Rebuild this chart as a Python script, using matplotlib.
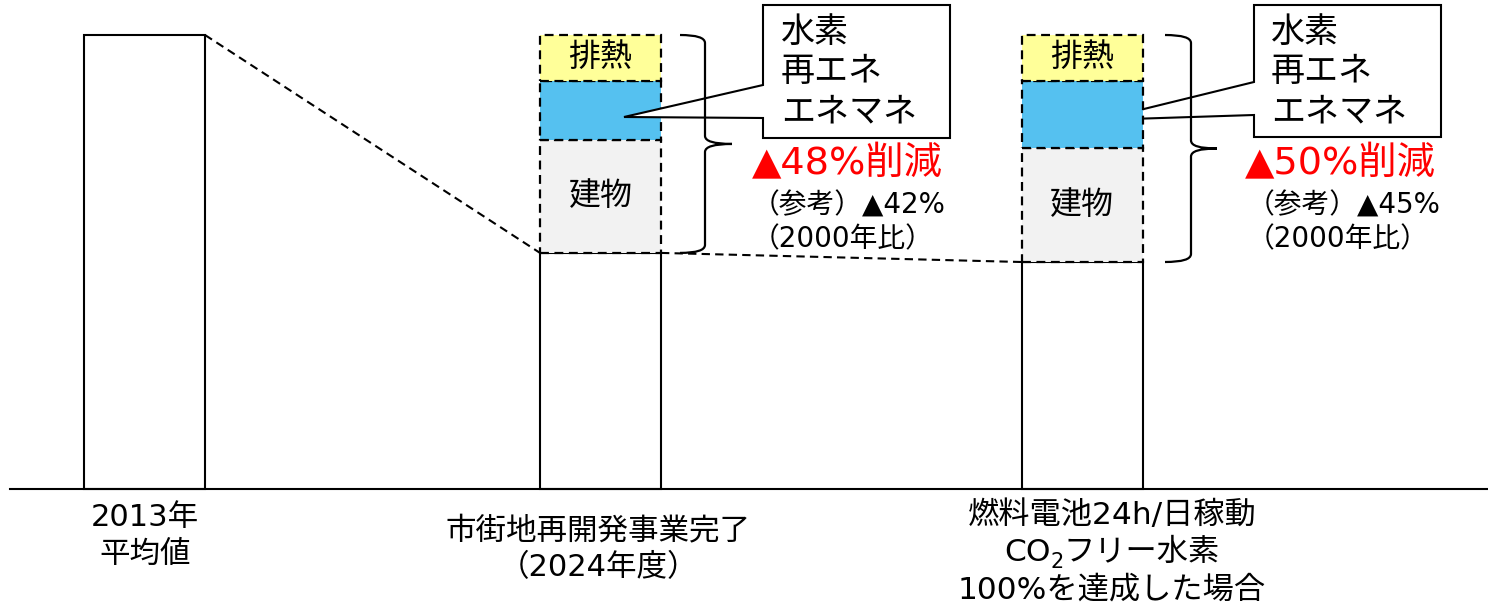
import matplotlib
matplotlib.use('Agg')
import matplotlib.pyplot as plt
from matplotlib.path import Path
from matplotlib.patches import PathPatch, Polygon

plt.rcParams['font.family'] = ['DejaVu Sans', 'Noto Sans CJK JP']

# values relative to the 2013 average (=100)
base = [100, 52, 50]          # remaining emissions
building = [0, 24.9, 25.1]    # 建物
renewable = [0, 13.0, 14.8]   # 水素・再エネ・エネマネ
exhaust = [0, 10.1, 10.1]     # 排熱
xlabels = [['2013年', '平均値'],
           ['市街地再開発事業完了', '（2024年度）'],
           ['燃料電池24h/日稼動', None, '100%を達成した場合']]
co2_line = [('CO', 22.5, 0), ('2', 15, -7), ('フリー水素', 22.5, 0)]
reduction = ['▲48%削減', '▲50%削減']
reference = [['（参考）▲42%', '（2000年比）'], ['（参考）▲45%', '（2000年比）']]
callout = ['水素', '再エネ', 'エネマネ']

# layout (pixel based canvas)
W, H = 1488, 610
y0px, pxu = 489, 4.54          # baseline row, pixels per unit
xpos = [144.5, 600.5, 1082]
bw = 121


def Y(py):
    return (y0px - py) / pxu


fig = plt.figure(figsize=(W / 100, H / 100), dpi=100)
ax = fig.add_axes([0, 0, 1, 1])
ax.set_xlim(0, W)
ax.set_ylim(Y(H), Y(0))
ax.axis('off')

# bars
ax.bar(xpos, base, width=bw, color='white', edgecolor='black', lw=1.5, zorder=3)
b1 = [b + c for b, c in zip(base, building)]
b2 = [b + c for b, c in zip(b1, renewable)]
ax.bar(xpos[1:], building[1:], bottom=base[1:], width=bw, color='#F2F2F2',
       edgecolor='black', lw=1.6, ls=(0, (4, 2.5)), zorder=3)
ax.bar(xpos[1:], renewable[1:], bottom=b1[1:], width=bw, color='#55C1F0',
       edgecolor='black', lw=1.6, ls=(0, (4, 2.5)), zorder=3)
ax.bar(xpos[1:], exhaust[1:], bottom=b2[1:], width=bw, color='#FFFF99',
       edgecolor='black', lw=1.6, ls=(0, (4, 2.5)), zorder=3)

for i in (1, 2):
    ax.text(xpos[i], b2[i] + exhaust[i] / 2, '排熱', ha='center', va='center',
            fontsize=23, zorder=6)
    ax.text(xpos[i], base[i] + building[i] / 2, '建物', ha='center', va='center',
            fontsize=23, zorder=6)

# baseline
ax.plot([10, W], [0, 0], color='black', lw=1.5, zorder=4)

# dashed connectors
ax.plot([xpos[0] + bw / 2, xpos[1] - bw / 2], [base[0], base[1]], color='black',
        lw=1.5, ls=(0, (4, 2.5)), zorder=2)
ax.plot([xpos[1] + bw / 2, xpos[2] - bw / 2], [base[1], base[2]], color='black',
        lw=1.5, ls=(0, (4, 2.5)), zorder=2)


def brace(xl, xv, xt, ytop, ybot):
    ry = 8 / pxu
    ym = (ytop + ybot) / 2
    verts = [(xl, ytop), (xv, ytop), (xv, ytop - ry), (xv, ym + ry), (xv, ym), (xt, ym),
             (xt, ym), (xv, ym), (xv, ym - ry), (xv, ybot + ry), (xv, ybot), (xl, ybot)]
    codes = [Path.MOVETO, Path.CURVE3, Path.CURVE3, Path.LINETO, Path.CURVE3, Path.CURVE3,
             Path.MOVETO, Path.CURVE3, Path.CURVE3, Path.LINETO, Path.CURVE3, Path.CURVE3]
    ax.add_patch(PathPatch(Path(verts, codes), fill=False, lw=1.6, color='black', zorder=5))


brace(680, 705, 732, base[0], base[1])
brace(1165, 1191, 1217, base[0], base[2])


def balloon(x1, x2, top, bot, a_up, a_lo, tip, z, tx):
    pts = [(x1, top), (x2, top), (x2, bot), (x1, bot), (x1, a_lo), tip, (x1, a_up)]
    ax.add_patch(Polygon([(x, Y(y)) for x, y in pts], closed=True, facecolor='white',
                         edgecolor='black', lw=1.5, zorder=z))
    for k, s in enumerate(callout):
        ax.text(tx, Y(32 + 40 * k), s, ha='left', va='center', fontsize=24.5, zorder=z + 0.5)


balloon(763, 950, 5, 138, 85, 118, (624, 117), 4, 781)
balloon(1254, 1441, 5, 137, 82, 115, (1099, 120), 2, 1271)

# reduction notes
for (xr, xn), red, ref in zip([(752, 752), (1245, 1247)], reduction, reference):
    ax.text(xr, Y(164), red, color='#FF0000', fontsize=27.5, ha='left', va='center')
    ax.text(xn, Y(206), ref[0], fontsize=20, ha='left', va='center')
    ax.text(xn, Y(239), ref[1], fontsize=20, ha='left', va='center')

# category labels
lab_x = [145, 598, 1112]
lab_y = [[517, 554], [531, 568], [515, 552, 590]]
lab_fs = [22, 22, 22.5]
for lx, ly, fs, lines in zip(lab_x, lab_y, lab_fs, xlabels):
    for yy, s in zip(ly, lines):
        if s is not None:
            ax.text(lx, Y(yy), s, ha='center', va='center', fontsize=fs)

# CO2 line with a real subscript, centred under the third bar
fig.canvas.draw()
rend = fig.canvas.get_renderer()
pieces = []
for s, fs, dy in co2_line:
    t = ax.text(0, 0, s, fontsize=fs, ha='left', va='baseline')
    pieces.append((t, t.get_window_extent(rend).width, dy))
total = sum(w for _, w, _ in pieces)
x = lab_x[2] - total / 2
base_y = Y(lab_y[2][1]) - 9 / pxu
for t, w, dy in pieces:
    t.set_position((x, base_y + dy / pxu))
    x += w

fig.savefig('out.png', dpi=100)
